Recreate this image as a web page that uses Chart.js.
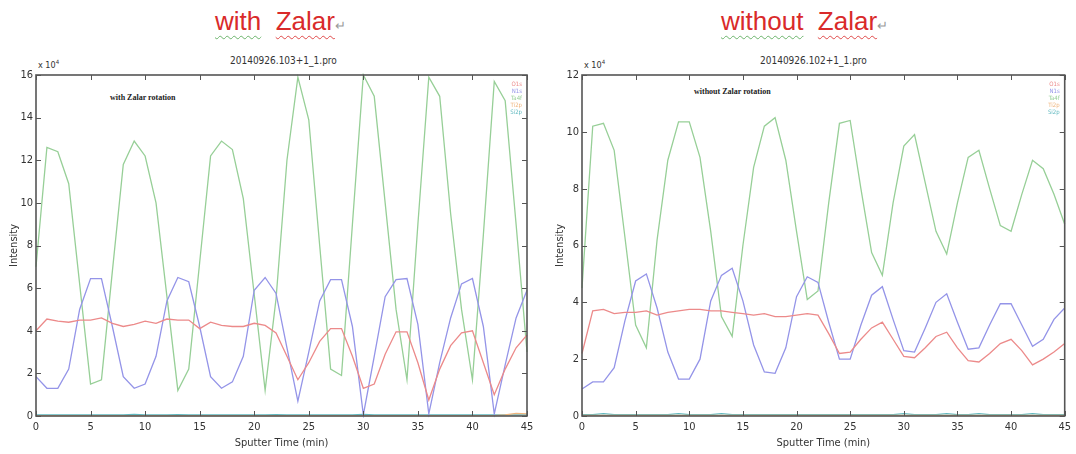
<!doctype html>
<html lang="en">

<head>
    <meta charset="utf-8">
    <title>Zalar rotation depth profiles</title>
    <script src="https://cdn.jsdelivr.net/npm/chart.js"></script>
    <style>
        body { margin: 0; background: #fff; width: 1076px; height: 454px; position: relative; overflow: hidden; }
        .head { position: absolute; top: 6px; font-family: "Liberation Sans", Arial, sans-serif; font-size: 26px; color: #d92a2a; white-space: pre; }
        .head .sp { text-decoration: underline wavy #6cb46c; text-decoration-thickness: 1px; text-underline-offset: 5px; }
        .head .zl { text-decoration: underline wavy #e04a4a; text-decoration-thickness: 1px; text-underline-offset: 5px; }
        .head .ret { color: #999; font-size: 13px; }
        .sub { position: absolute; top: 55px; font-family: "Liberation Sans Narrow", "DejaVu Sans Condensed", sans-serif; font-size: 10px; color: #333; }
        .exp { position: absolute; top: 58px; font-family: "Liberation Sans Narrow", "DejaVu Sans Condensed", sans-serif; font-size: 9px; color: #333; }
        .exp sup { font-size: 6px; }
        .note { position: absolute; font-family: "Liberation Serif", serif; font-size: 8px; font-weight: bold; color: #222; }
        canvas { position: absolute; top: 44px; }
    </style>
</head>

<body>
    <div class="head" style="left:215px"><span class="sp">with</span>  <span class="zl">Zalar</span><span class="ret">↵</span></div>
    <div class="head" style="left:721px"><span class="sp">without</span>  <span class="zl">Zalar</span><span class="ret">↵</span></div>

    <div class="sub" style="left:230px">20140926.103+1_1.pro</div>
    <div class="sub" style="left:760px">20140926.102+1_1.pro</div>

    <div class="exp" style="left:38px">x 10<sup>4</sup></div>
    <div class="exp" style="left:584px">x 10<sup>4</sup></div>

    <div class="note" style="left:110px; top:93px">with Zalar rotation</div>
    <div class="note" style="left:694px; top:87px">without Zalar rotation</div>

    <canvas id="chart_with" width="540" height="410" style="left:0px"></canvas>
    <canvas id="chart_without" width="536" height="410" style="left:540px"></canvas>

    <script>
        // sputter time (min)
        const time = [0, 1, 2, 3, 4, 5, 6, 7, 8, 9, 10, 11, 12, 13, 14, 15, 16, 17, 18, 19, 20, 21, 22,
            23, 24, 25, 26, 27, 28, 29, 30, 31, 32, 33, 34, 35, 36, 37, 38, 39, 40, 41, 42, 43, 44, 45];
        const series_names = ["O1s", "N1s", "Ta4f", "Ti2p", "Si2p"];
        const series_colors = ["#ec8a8a", "#9494e8", "#97cf97", "#efb47c", "#5fb8bf"];

        // intensity, x 10^4 -- with Zalar rotation
        const with_o = [4.0, 4.55, 4.45, 4.4, 4.5, 4.5, 4.6, 4.35, 4.2, 4.3, 4.45, 4.35, 4.55, 4.5, 4.5, 4.1, 4.4, 4.25, 4.2, 4.2, 4.35, 4.25, 3.9,
            2.8, 1.7, 2.5, 3.5, 4.1, 4.1, 2.8, 1.3, 1.5, 2.9, 3.95, 3.95, 2.5, 0.75, 2.2, 3.3, 3.9, 4.0, 2.5, 1.0, 2.2, 3.2, 3.8];
        const with_n = [1.85, 1.3, 1.3, 2.2, 5.0, 6.45, 6.45, 4.2, 1.85, 1.3, 1.5, 2.8, 5.4, 6.5, 6.3, 4.2, 1.85, 1.3, 1.6, 2.8, 5.9, 6.5, 5.75,
            3.2, 0.7, 3.0, 5.4, 6.4, 6.4, 4.2, 0.05, 2.8, 5.6, 6.4, 6.45, 4.3, 0.1, 2.5, 4.6, 6.2, 6.45, 4.2, 0.1, 2.4, 4.6, 5.9];
        const with_ta = [7.0, 12.6, 12.4, 10.9, 6.2, 1.5, 1.7, 6.8, 11.8, 12.9, 12.2, 10.0, 5.6, 1.2, 2.2, 7.2, 12.2, 12.9, 12.5, 10.2, 5.7, 1.2, 5.5,
            12.0, 15.9, 13.9, 8.0, 2.2, 1.9, 9.0, 16.0, 15.0, 10.0, 5.0, 1.7, 9.0, 15.9, 15.0, 9.5, 5.0, 1.7, 8.5, 15.7, 14.8, 9.0, 3.0];
        const with_ti = [0.02, 0.02, 0.02, 0.02, 0.02, 0.02, 0.02, 0.02, 0.02, 0.02, 0.02, 0.02, 0.02, 0.02, 0.02, 0.02, 0.02, 0.02, 0.02, 0.02, 0.02, 0.02, 0.02,
            0.02, 0.02, 0.02, 0.02, 0.02, 0.02, 0.02, 0.02, 0.02, 0.02, 0.02, 0.02, 0.02, 0.02, 0.02, 0.02, 0.02, 0.02, 0.02, 0.02, 0.05, 0.12, 0.1];
        const with_si = [0.05, 0.05, 0.05, 0.05, 0.05, 0.05, 0.05, 0.05, 0.05, 0.08, 0.05, 0.05, 0.05, 0.06, 0.05, 0.05, 0.05, 0.05, 0.05, 0.05, 0.05, 0.05, 0.06,
            0.05, 0.05, 0.05, 0.05, 0.05, 0.05, 0.05, 0.08, 0.05, 0.05, 0.05, 0.05, 0.05, 0.05, 0.05, 0.05, 0.05, 0.05, 0.05, 0.05, 0.05, 0.05, 0.05];

        // intensity, x 10^4 -- without Zalar rotation
        const without_o = [2.2, 3.7, 3.75, 3.6, 3.65, 3.65, 3.7, 3.55, 3.65, 3.7, 3.75, 3.75, 3.7, 3.7, 3.65, 3.6, 3.55, 3.6, 3.5, 3.5, 3.55, 3.6, 3.55,
            2.9, 2.2, 2.25, 2.7, 3.1, 3.3, 2.7, 2.1, 2.05, 2.4, 2.8, 2.95, 2.4, 1.95, 1.9, 2.2, 2.55, 2.7, 2.3, 1.8, 2.0, 2.25, 2.55];
        const without_n = [0.95, 1.2, 1.2, 1.7, 3.35, 4.75, 5.0, 3.8, 2.25, 1.3, 1.3, 2.0, 4.05, 4.95, 5.2, 4.05, 2.5, 1.55, 1.5, 2.4, 4.2, 4.9, 4.7,
            3.3, 2.0, 2.0, 3.2, 4.25, 4.55, 3.4, 2.3, 2.25, 3.1, 4.0, 4.3, 3.3, 2.35, 2.4, 3.2, 3.95, 3.95, 3.2, 2.45, 2.7, 3.4, 3.8];
        const without_ta = [4.5, 10.2, 10.3, 9.35, 6.3, 3.2, 2.4, 6.2, 9.0, 10.35, 10.35, 9.1, 6.5, 3.5, 2.8, 6.0, 8.75, 10.2, 10.5, 9.0, 6.5, 4.1, 4.4,
            7.5, 10.3, 10.4, 8.0, 5.75, 4.95, 7.5, 9.5, 9.9, 8.2, 6.5, 5.7, 7.5, 9.1, 9.35, 8.0, 6.7, 6.5, 7.8, 9.0, 8.7, 7.8, 6.75];
        const without_ti = [0.02, 0.02, 0.02, 0.02, 0.02, 0.02, 0.02, 0.02, 0.02, 0.02, 0.02, 0.02, 0.02, 0.02, 0.02, 0.02, 0.02, 0.02, 0.02, 0.02, 0.02, 0.02, 0.02,
            0.02, 0.02, 0.02, 0.02, 0.02, 0.02, 0.02, 0.02, 0.02, 0.02, 0.02, 0.02, 0.02, 0.02, 0.02, 0.02, 0.02, 0.02, 0.02, 0.02, 0.02, 0.02, 0.02];
        const without_si = [0.05, 0.05, 0.08, 0.05, 0.05, 0.05, 0.05, 0.05, 0.05, 0.08, 0.05, 0.05, 0.05, 0.08, 0.05, 0.05, 0.05, 0.05, 0.05, 0.05, 0.05, 0.05, 0.05,
            0.05, 0.05, 0.05, 0.05, 0.05, 0.05, 0.05, 0.08, 0.05, 0.05, 0.05, 0.08, 0.05, 0.05, 0.08, 0.05, 0.05, 0.05, 0.05, 0.08, 0.05, 0.05, 0.05];

        const x_ticks = [0, 5, 10, 15, 20, 25, 30, 35, 40, 45];

        const axis_font = { family: "'Liberation Sans Narrow', 'DejaVu Sans Condensed', sans-serif", size: 11 };

        // matlab style box: frame, inward ticks on all four sides, small coloured legend top right
        const boxPlugin = {
            id: 'matlabBox',
            afterDatasetsDraw(chart) {
                const ctx = chart.ctx;
                const a = chart.chartArea;
                const xs = chart.scales.x;
                const ys = chart.scales.y;
                ctx.save();
                ctx.strokeStyle = '#555';
                ctx.lineWidth = 1;
                ctx.beginPath();
                for (const t of xs.ticks) {
                    const px = Math.round(xs.getPixelForValue(t.value)) + 0.5;
                    ctx.moveTo(px, a.bottom); ctx.lineTo(px, a.bottom - 5);
                    ctx.moveTo(px, a.top); ctx.lineTo(px, a.top + 5);
                }
                for (const t of ys.ticks) {
                    const py = Math.round(ys.getPixelForValue(t.value)) + 0.5;
                    ctx.moveTo(a.left, py); ctx.lineTo(a.left + 5, py);
                    ctx.moveTo(a.right, py); ctx.lineTo(a.right - 5, py);
                }
                ctx.stroke();
                ctx.lineWidth = 1.6;
                ctx.strokeRect(a.left, a.top, a.right - a.left, a.bottom - a.top);

                ctx.font = "6px 'DejaVu Sans Condensed', sans-serif";
                ctx.textAlign = 'right';
                ctx.textBaseline = 'middle';
                chart.data.datasets.forEach((ds, i) => {
                    ctx.fillStyle = ds.borderColor;
                    ctx.fillText(ds.label, a.right - 5, a.top + 9 + i * 7);
                });
                ctx.restore();
            }
        };

        function makeChart(id, rows, y_max, y_width, right_pad, y_title_pad) {
            const datasets = [];
            for (let i = 0; i < rows.length; i++) {
                datasets.push({
                    label: series_names[i],
                    data: time.map((t, k) => ({ x: t, y: rows[i][k] })),
                    borderColor: series_colors[i],
                    borderWidth: 1.3,
                    pointRadius: 0,
                    tension: 0,
                    clip: 2
                });
            }
            return new Chart(document.getElementById(id), {
                type: 'line',
                data: { datasets: datasets },
                options: {
                    responsive: false,
                    animation: false,
                    layout: { padding: { top: 31, right: right_pad, left: 0, bottom: 0 } },
                    plugins: { legend: { display: false }, tooltip: { enabled: false } },
                    scales: {
                        x: {
                            type: 'linear',
                            min: 0,
                            max: 45,
                            afterBuildTicks: (s) => { s.ticks = x_ticks.map(v => ({ value: v })); },
                            afterFit: (s) => { s.height = 38; },
                            grid: { display: false, drawTicks: false },
                            border: { display: false },
                            ticks: { color: '#333', font: axis_font, padding: 5, maxRotation: 0 },
                            title: { display: true, text: 'Sputter Time (min)', color: '#333', font: axis_font, padding: { top: 0, bottom: 4 } }
                        },
                        y: {
                            min: 0,
                            max: y_max,
                            afterFit: (s) => { s.width = y_width; },
                            grid: { display: false, drawTicks: false },
                            border: { display: false },
                            ticks: { color: '#333', font: axis_font, padding: 3, stepSize: 2 },
                            title: { display: true, text: 'Intensity', color: '#333', font: axis_font, padding: y_title_pad }
                        }
                    }
                },
                plugins: [boxPlugin]
            });
        }

        makeChart('chart_with', [with_o, with_n, with_ta, with_ti, with_si], 16, 36, 13, 8);
        makeChart('chart_without', [without_o, without_n, without_ta, without_ti, without_si], 12, 42, 9, 14);
    </script>
</body>

</html>
